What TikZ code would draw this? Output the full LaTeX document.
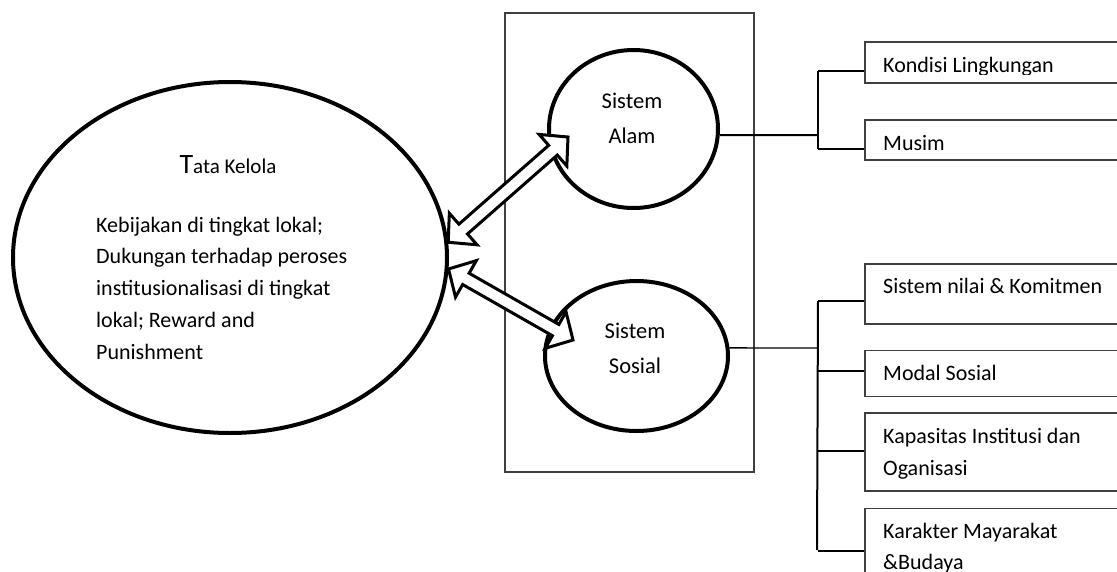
\documentclass[tikz,border=0pt]{standalone}
\usepackage{fontspec}
\setmainfont{Carlito}
\usepackage{tikz}
\usetikzlibrary{positioning,calc,shapes.geometric}
\definecolor{frameGray}{HTML}{404040}

% hollow two-headed block arrow between two points
\newcommand{\twoway}[2]{%
  \coordinate (ha) at ($(#1)!20pt!(#2)$);
  \coordinate (hb) at ($(#2)!20pt!(#1)$);
  \draw[blockarr] (#1) -- ($(ha)!21pt!90:(#2)$) -- ($(ha)!6.5pt!90:(#2)$) -- ($(hb)!6.5pt!-90:(#1)$) -- ($(hb)!21pt!-90:(#1)$) -- (#2)
    -- ($(hb)!21pt!90:(#1)$) -- ($(hb)!6.5pt!90:(#1)$) -- ($(ha)!6.5pt!-90:(#2)$) -- ($(ha)!21pt!-90:(#2)$) -- cycle;}

\begin{document}
\begin{tikzpicture}[
x=1pt, y=-1pt,
every node/.style={font=\fontsize{22}{31.7}\selectfont},
bigoval/.style={draw, ellipse, line width=4pt, inner sep=0pt},
holder/.style={draw=frameGray, line width=1.2pt, inner sep=0pt, minimum width=249pt, minimum height=459pt},
itembox/.style={draw=frameGray, line width=1.5pt, inner sep=0pt, anchor=north west, minimum width=270pt},
itemtext/.style={anchor=base west, inner sep=0pt, align=left, font=\fontsize{22}{31.5}\selectfont},
ovaltext/.style={anchor=base, inner sep=0pt, align=center, font=\fontsize{22.5}{35}\selectfont},
link/.style={line width=2pt},
thinlink/.style={line width=1.3pt},
blockarr/.style={draw=black, fill=white, line width=3pt}
]
\useasboundingbox (0,0) rectangle (1117,571);
\clip (0,0) rectangle (1117,571);

% Governance oval (multi-line nodes sit on their last baseline)
\node[bigoval, minimum width=434pt, minimum height=351pt] (tata) at (230,257.5) {};
\node[anchor=base, inner sep=0pt, font=\fontsize{21}{24}\selectfont] (tataTitle) at ($(tata.center)+(-2,-84.5)$) {{\fontsize{28}{30}\selectfont T}ata Kelola};
\node[itemtext, font=\fontsize{22}{31.7}\selectfont] (tataBody) at ($(tata.center)+(-134,101.5)$) {Kebijakan di tingkat lokal;\\Dukungan terhadap peroses\\institusionalisasi di tingkat\\lokal; Reward and\\Punishment};

% Frame with the two systems
\node[holder] (frame) at (629.5,242.5) {};
\node[bigoval, minimum width=169pt, minimum height=158pt] (alam) at (633.5,129) {};
\node[ovaltext] (alamText) at ($(alam.center)+(-1.5,14)$) {Sistem\\Alam};
\node[bigoval, minimum width=183pt, minimum height=150pt] (sosial) at (636.5,356) {};
\node[ovaltext] (sosialText) at ($(sosial.center)+(-1.5,17)$) {Sistem\\Sosial};

% Natural system items
\node[itembox, minimum height=41pt] (kondisi) at (864,41) {};
\node[itembox, minimum height=40pt] (musim) at (864,119) {};
\begin{scope}
\clip (kondisi.north west) rectangle ($(kondisi.south east)+(0,-9)$);
\node[itemtext] (kondisiT) at ($(kondisi.north west)+(19,31)$) {Kondisi Lingkungan};
\end{scope}
\begin{scope}
\clip (musim.north west) rectangle ($(musim.south east)+(0,-10)$);
\node[itemtext] (musimT) at ($(musim.north west)+(19,31)$) {Musim};
\end{scope}

% Social system items
\node[itembox, minimum height=60pt] (nilai) at (864,263) {};
\node[itembox, minimum height=46pt, below=25pt of nilai.south west, anchor=north west] (modal) {};
\node[itembox, minimum height=78pt, below=15pt of modal.south west, anchor=north west] (kapasitas) {};
\node[itembox, minimum height=100pt, below=16pt of kapasitas.south west, anchor=north west] (karakter) {};
\node[itemtext] (nilaiT) at ($(nilai.north west)+(19,30)$) {Sistem nilai \& Komitmen};
\node[itemtext] (modalT) at ($(modal.north west)+(19,31)$) {Modal Sosial};
\node[itemtext] (kapasitasT) at ($(kapasitas.north west)+(19,63)$) {Kapasitas Institusi dan\\Oganisasi};
\node[itemtext] (karakterT) at ($(karakter.north west)+(19,62)$) {Karakter Mayarakat\\\&Budaya};

% Brackets
\coordinate (upJ) at (818,135);
\coordinate (upTop) at (818,71);
\coordinate (upBot) at (818,148.5);
\draw[link] (alam.-4) -- (upJ);
\draw[link] (upTop) -- (upBot);
\draw[link] (upTop) -- (upTop -| kondisi.west);
\draw[link] (upBot) -- (upBot -| musim.west);

\coordinate (loJ) at (818,348);
\coordinate (loTop) at (818,301);
\coordinate (loBot) at (817,550);
\draw[thinlink] (sosial.5) -- (loJ);
\draw[link] (loTop) -- (loBot);
\foreach \b/\yy in {nilai/301,modal/371,kapasitas/451,karakter/551}{
  \coordinate (br-\b) at (818,\yy);
  \draw[link] (br-\b) -- (br-\b -| \b.west);
}

% Two-way arrows
\coordinate (alamTip) at ($(alam.center)+(-65.5,8)$);
\coordinate (sosialTip) at ($(sosial.center)+(-63.5,-16)$);
\twoway{tata.4}{alamTip}
\twoway{tata.-3}{sosialTip}
\end{tikzpicture}
\end{document}
